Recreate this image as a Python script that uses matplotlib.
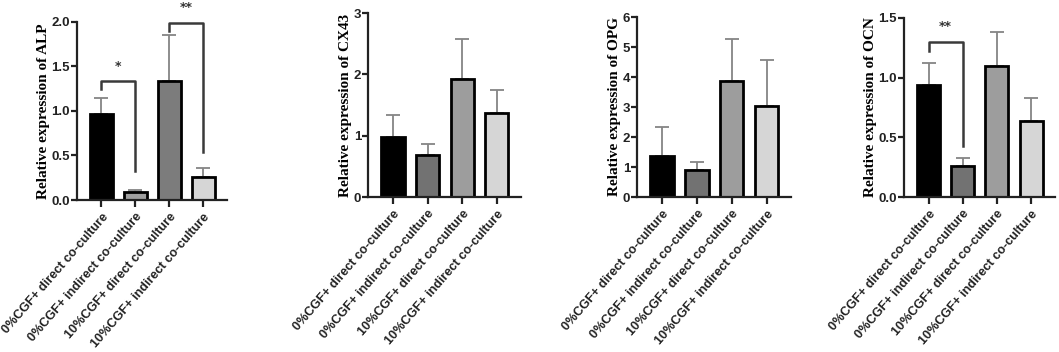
import matplotlib
matplotlib.use('Agg')
import matplotlib.pyplot as plt

# categories shared by all four panels
groups = ['0%CGF+ direct co-culture', '0%CGF+ indirect co-culture',
          '10%CGF+ direct co-culture', '10%CGF+ indirect co-culture']

# mean values and upper error (absolute top of the error bar)
alp_mean = [0.96, 0.09, 1.33, 0.26]
alp_top = [1.14, 0.11, 1.85, 0.36]
cx43_mean = [0.98, 0.68, 1.93, 1.37]
cx43_top = [1.34, 0.87, 2.58, 1.75]
opg_mean = [1.38, 0.90, 3.88, 3.03]
opg_top = [2.32, 1.17, 5.28, 4.57]
ocn_mean = [0.94, 0.26, 1.10, 0.64]
ocn_top = [1.12, 0.33, 1.38, 0.83]

# significance brackets: (left bar, right bar, bracket y, left leg end, right leg end, star y, label)
alp_sig = [(0, 1, 1.34, 1.24, 0.32, 1.50, '*'),
           (2, 3, 1.99, 1.90, 0.54, 2.16, '**')]
ocn_sig = [(0, 1, 1.30, 1.22, 0.43, 1.43, '**')]

W, H = 1059, 352


def axes_px(fig, left, right, top, bottom):
    return fig.add_axes([left / W, 1 - bottom / H, (right - left) / W, (bottom - top) / H])


def draw_panel(ax, means, tops, colors, ylim, yticks, fmt, gene, sig=()):
    x = range(len(means))
    errs = [t - m for t, m in zip(tops, means)]
    ax.errorbar(x, means, yerr=[[0] * len(means), errs], fmt='none', ecolor='#858585',
                elinewidth=1.3, capsize=5, capthick=1.3, zorder=1)
    ax.bar(x, means, width=0.67, color=colors, edgecolor='black', linewidth=2, zorder=2)
    ax.set_xlim(-0.72, 3.7)
    ax.set_ylim(*ylim)
    ax.set_yticks(yticks)
    ax.set_yticklabels([fmt % v for v in yticks], fontfamily='Liberation Sans',
                       fontweight='bold', fontsize=9.5, color='#222222')
    ax.set_xticks(list(x))
    ax.set_xticklabels(groups, rotation=49, ha='right', rotation_mode='anchor',
                       fontfamily='Liberation Sans', fontweight='bold', fontsize=9.1,
                       color='#222222')
    ax.set_ylabel('Relative expression of ' + gene, fontfamily='Liberation Serif',
                  fontweight='bold', fontsize=11, labelpad=1)
    for s in ['top', 'right']:
        ax.spines[s].set_visible(False)
    for s in ['left', 'bottom']:
        ax.spines[s].set_linewidth(1.6)
        ax.spines[s].set_color('#222222')
    ax.tick_params(axis='y', direction='out', length=4, width=1.6, color='#222222', pad=1)
    ax.tick_params(axis='x', direction='out', length=5, width=1.6, color='#222222', pad=3)
    for i, j, yb, yl, yr, ys, lab in sig:
        ax.plot([i, i, j, j], [yl, yb, yb, yr], color='#3a3a3a', lw=1.8, clip_on=False)
        ax.text((i + j) / 2, ys, lab, ha='center', va='center', fontsize=9,
                fontweight='bold', color='#333333', clip_on=False)


fig = plt.figure(figsize=(W / 100, H / 100), dpi=100)

ax1 = axes_px(fig, 77, 227, 21.7, 200)
draw_panel(ax1, alp_mean, alp_top, ['black', '#a0a0a0', '#7c7c7c', '#d6d6d6'],
           (0, 2), [0, 0.5, 1.0, 1.5, 2.0], '%.1f', 'ALP', alp_sig)

other_colors = ['black', '#727272', '#9d9d9d', '#d6d6d6']
ax2 = axes_px(fig, 368, 521, 13, 197)
draw_panel(ax2, cx43_mean, cx43_top, other_colors, (0, 3), [0, 1, 2, 3], '%d', 'CX43')

ax3 = axes_px(fig, 637, 791, 17, 197)
draw_panel(ax3, opg_mean, opg_top, other_colors, (0, 6), [0, 1, 2, 3, 4, 5, 6], '%d', 'OPG')

ax4 = axes_px(fig, 904, 1055, 18, 197)
draw_panel(ax4, ocn_mean, ocn_top, other_colors, (0, 1.5), [0, 0.5, 1.0, 1.5], '%.1f',
           'OCN', ocn_sig)

fig.savefig('out.png', dpi=100)
